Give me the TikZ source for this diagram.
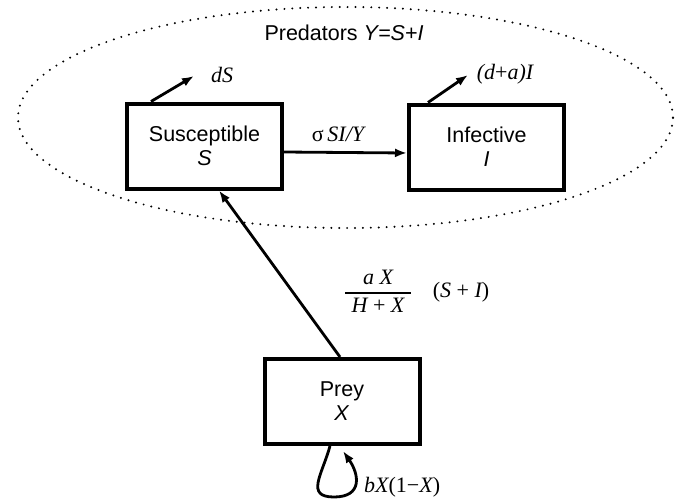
\documentclass[tikz,border=0pt]{standalone}
\usepackage{amsmath}
\usepackage{fontspec}
\setmainfont{Liberation Sans}
\newfontfamily\tms{Liberation Serif}
\usetikzlibrary{arrows.meta}
\begin{document}
\begin{tikzpicture}[x=1pt,y=-1pt,
  box/.style={draw, line width=4pt, minimum width=155pt, minimum height=85pt,
    align=center, inner sep=0pt, font=\fontsize{21.5}{24}\selectfont},
  arr/.style={line width=2.8pt, -{Latex[length=12pt,width=9pt]}},
  mth/.style={font=\tms\fontsize{22}{26}\selectfont\itshape, inner sep=0pt},
  sans/.style={font=\fontsize{21.5}{24}\selectfont, inner sep=0pt}]
\useasboundingbox (0,0) rectangle (683,499);
\draw[line width=2.2pt, line cap=round, dash pattern=on 0pt off 7.9pt]
  (345.5,117.5) ellipse [x radius=327.5pt, y radius=110.5pt];
\node[sans] (pred) at (344,33) {Predators \textit{Y=S+I}};
\node[box] (S) at (204.5,146) {Susceptible\\\textit{S}};
\node[box] (I) at (486.5,147) {Infective\\\textit{I}};
\node[box] (P) at (342,401.5) {Prey\\\textit{X}};
% S -> I
\draw[arr] ([yshift=-6pt]S.east) -- ([yshift=-6pt]I.west);
\node[mth] (rate) at (338,134) {{\upshape σ}\,SI/Y};
% death arrows
\coordinate (dSend) at (194,76);
\draw[arr] ([xshift=26pt]S.north west) -- (dSend);
\node[mth] (dS) at (222,75) {dS};
\coordinate (dIend) at (468,75);
\draw[arr] ([xshift=21pt]I.north west) -- (dIend);
\node[mth] (dI) at (505,74) {({d}{\upshape+}{a})I};
% predation
\draw[arr] ([xshift=-2pt]P.north) -- ([xshift=14.5pt]S.south);
\node[mth, font=\tms\fontsize{22}{26}\selectfont] (frac) at (378,291)
  {\(\genfrac{}{}{1.4pt}{0}{\hbox to 66pt{\hss\itshape a X\hss}}{\hbox{\itshape H\ \upshape+\ \itshape X}}\)};
\node[mth] (SI) at (461,292) {{\upshape(}S\ {\upshape+}\ I{\upshape)}};
% growth loop
\coordinate (loopend) at (343,451);
\draw[arr] ([xshift=-12pt]P.south) .. controls (322,475) and (305,497) .. (334,497)
  .. controls (363,497) and (359,474) .. (loopend);
\node[mth, anchor=west] (grow) at (364,487) {bX{\upshape(1−}X{\upshape)}};
\end{tikzpicture}
\end{document}
